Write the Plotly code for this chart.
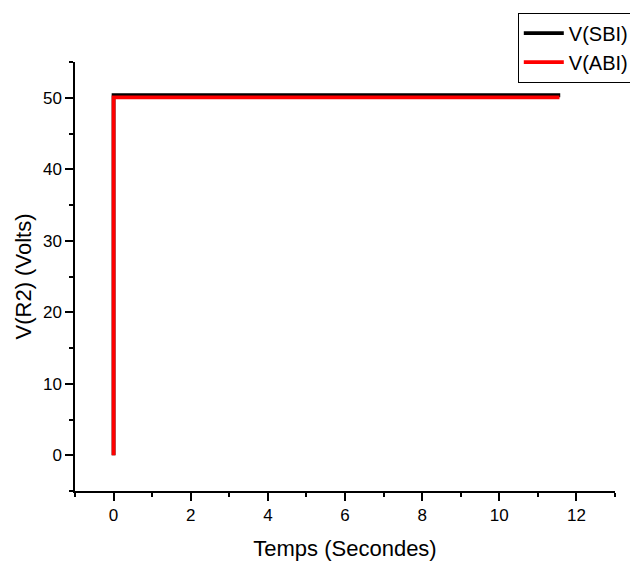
import plotly.graph_objects as go

# Data
t_sbi = [0.0, 0.0, 11.58]
v_sbi = [0.0, 50.35, 50.35]
t_abi = [0.0, 0.0, 11.56]
v_abi = [0.0, 50.05, 50.05]
series_names = ["V(SBI)", "V(ABI)"]
x_title = "Temps (Secondes)"
y_title = "V(R2) (Volts)"

FONT = "Liberation Sans, Arial"

fig = go.Figure()
fig.add_trace(go.Scatter(x=t_sbi, y=v_sbi, mode="lines", name=series_names[0],
                         line=dict(color="black", width=3.8)))
fig.add_trace(go.Scatter(x=t_abi, y=v_abi, mode="lines", name=series_names[1],
                         line=dict(color="#ff0000", width=3.8)))

axis_common = dict(
    showline=True, linecolor="black", linewidth=1.5, mirror=False,
    ticks="outside", ticklen=8, tickwidth=1.5, tickcolor="black",
    showgrid=False, zeroline=False,
    tickfont=dict(family=FONT, size=17, color="black"),
    minor=dict(ticks="outside", ticklen=4, tickwidth=1.5, tickcolor="black", showgrid=False),
)

fig.update_xaxes(range=[-1, 13], tickmode="linear", tick0=0, dtick=2,
                 minor_dtick=1, minor_tick0=0, automargin=False,
                 title=dict(text=x_title, font=dict(family=FONT, size=22, color="black"), standoff=22),
                 **axis_common)
fig.update_yaxes(range=[-5, 55], tickmode="linear", tick0=0, dtick=10,
                 minor_dtick=5, minor_tick0=0, automargin=False,
                 title=dict(text=y_title, font=dict(family=FONT, size=22, color="black"), standoff=5),
                 **axis_common)

# page body has an 8px margin, so the figure is 8px smaller and shifted
fig.update_layout(
    width=630, height=553,
    margin=dict(l=67, r=23, t=54, b=70, autoexpand=False),
    plot_bgcolor="white", paper_bgcolor="white",
    font=dict(family=FONT, color="black"),
    legend=dict(x=0.82, y=1.115, xanchor="left", yanchor="top",
                bordercolor="black", borderwidth=1, bgcolor="white",
                font=dict(family=FONT, size=20, color="black"),
                tracegroupgap=0, itemwidth=40),
    showlegend=True,
)

fig.write_html("out.html")
